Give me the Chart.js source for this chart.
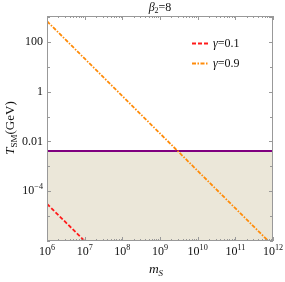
<!DOCTYPE html>
<html>
<head>
<meta charset="utf-8">
<script src="https://cdn.jsdelivr.net/npm/chart.js@4/dist/chart.umd.min.js"></script>
<style>
  html,body{margin:0;padding:0;background:#fff}
  #wrap{width:285px;height:282px}
</style>
</head>
<body>
<div id="wrap"><canvas id="c" width="285" height="282"></canvas></div>
<script>
// data
const redM = [1e6, 1e7];
const redT = [3.1e-5, 1e-6];
const orangeM = [1e6, 7.5e11];
const orangeT = [680, 1e-6];
const boundM = [1e6, 1e12];
const boundT = [0.0041, 0.0041];
const xTicks = [1e6, 1e7, 1e8, 1e9, 1e10, 1e11, 1e12];
const yTicks = [1e-6, 1e-5, 1e-4, 1e-3, 1e-2, 1e-1, 1, 10, 100, 1000];
const yLabels = {'1e-6': ['10', '−6'], '0.0001': ['10', '−4'], '0.01': ['0.01'], '1': ['1'], '100': ['100']};
const xLabels = ['6', '7', '8', '9', '10', '11', '12'];

const pts = (xs, ys) => xs.map((x, i) => ({x, y: ys[i]}));
const SERIF = '"Liberation Serif","DejaVu Serif",serif';
const INK = '#111';

// label: base text with optional raised exponent
function powText(ctx, parts, x, y, align, size) {
  ctx.font = size + 'px ' + SERIF;
  const wb = ctx.measureText(parts[0]).width;
  let we = 0;
  if (parts[1]) { ctx.font = (size * 0.68) + 'px ' + SERIF; we = ctx.measureText(parts[1]).width; }
  const w = wb + we;
  let x0 = align === 'right' ? x - w : align === 'center' ? x - w / 2 : x;
  ctx.textAlign = 'left'; ctx.textBaseline = 'middle';
  ctx.font = size + 'px ' + SERIF;
  ctx.fillText(parts[0], x0, y);
  if (parts[1]) { ctx.font = (size * 0.68) + 'px ' + SERIF; ctx.fillText(parts[1], x0 + wb, y - size * 0.36); }
}

const framePlugin = {
  id: 'frame',
  beforeDraw(chart) {
    const ctx = chart.ctx;
    ctx.save(); ctx.fillStyle = '#fff'; ctx.fillRect(0, 0, chart.width, chart.height); ctx.restore();
  },
  afterDraw(chart) {
    const ctx = chart.ctx, a = chart.chartArea, xs = chart.scales.x, ys = chart.scales.y;
    ctx.save();
    // inward ticks
    ctx.strokeStyle = '#999'; ctx.lineWidth = 1;
    ctx.beginPath();
    xTicks.forEach((v, i) => {
      const px = Math.round(xs.getPixelForValue(v)) + 0.5;
      ctx.moveTo(px, a.bottom); ctx.lineTo(px, a.bottom - 4);
      ctx.moveTo(px, a.top); ctx.lineTo(px, a.top + 4);
      if (i < xTicks.length - 1) for (let k = 2; k < 10; k++) {
        const q = Math.round(xs.getPixelForValue(v * k)) + 0.5;
        ctx.moveTo(q, a.bottom); ctx.lineTo(q, a.bottom - 2);
        ctx.moveTo(q, a.top); ctx.lineTo(q, a.top + 2);
      }
    });
    yTicks.forEach(v => {
      const py = Math.round(ys.getPixelForValue(v)) + 0.5;
      const len = yLabels[String(v)] ? 4 : 3;
      ctx.moveTo(a.left, py); ctx.lineTo(a.left + len, py);
      ctx.moveTo(a.right, py); ctx.lineTo(a.right - len, py);
    });
    ctx.stroke();
    // frame
    ctx.strokeStyle = '#999';
    ctx.strokeRect(a.left + 0.5, a.top + 0.5, a.right - a.left - 1, a.bottom - a.top - 1);

    // tick labels
    ctx.fillStyle = INK;
    yTicks.forEach(v => {
      const lab = yLabels[String(v)];
      if (lab) powText(ctx, lab, a.left - 4, ys.getPixelForValue(v), 'right', 12);
    });
    xTicks.forEach((v, i) => {
      powText(ctx, ['10', xLabels[i]], xs.getPixelForValue(v), a.bottom + 11, 'center', 12);
    });

    // title
    ctx.textBaseline = 'alphabetic'; ctx.textAlign = 'left';
    ctx.font = 'italic 12px ' + SERIF;
    const wB = ctx.measureText('β').width;
    ctx.font = '8px ' + SERIF; const w2 = ctx.measureText('2').width;
    ctx.font = '12px ' + SERIF; const wR = ctx.measureText('=8').width;
    let tx = (a.left + a.right) / 2 - (wB + w2 + wR) / 2;
    ctx.font = 'italic 12px ' + SERIF; ctx.fillText('β', tx, 11);
    ctx.font = '8px ' + SERIF; ctx.fillText('2', tx + wB, 13);
    ctx.font = '12px ' + SERIF; ctx.fillText('=8', tx + wB + w2, 11);

    // x title
    ctx.font = 'italic 13.5px ' + SERIF; const wm = ctx.measureText('m').width;
    ctx.font = 'italic 9px ' + SERIF; const ws = ctx.measureText('S').width;
    tx = 156 - (wm + ws) / 2;
    ctx.font = 'italic 13.5px ' + SERIF; ctx.fillText('m', tx, 273);
    ctx.font = 'italic 9px ' + SERIF; ctx.fillText('S', tx + wm, 276);

    // y title
    ctx.save();
    ctx.translate(14, 128); ctx.rotate(-Math.PI / 2);
    ctx.font = 'italic 13px ' + SERIF; const wT = ctx.measureText('T').width;
    ctx.font = '9px ' + SERIF; const wS = ctx.measureText('SM').width;
    ctx.font = '13px ' + SERIF; const wG = ctx.measureText('(GeV)').width;
    tx = -(wT + wS + wG) / 2;
    ctx.font = 'italic 13px ' + SERIF; ctx.fillText('T', tx, 0);
    ctx.font = '9px ' + SERIF; ctx.fillText('SM', tx + wT, 3);
    ctx.font = '13px ' + SERIF; ctx.fillText('(GeV)', tx + wT + wS, 0);
    ctx.restore();

    // legend
    const items = [
      {ds: chart.data.datasets[0], name: '=0.1', y: 43},
      {ds: chart.data.datasets[1], name: '=0.9', y: 63}
    ];
    items.forEach(it => {
      ctx.strokeStyle = it.ds.borderColor; ctx.lineWidth = 1.8;
      ctx.setLineDash(it.ds.borderDash);
      ctx.beginPath(); ctx.moveTo(192, it.y + 0.5); ctx.lineTo(209, it.y + 0.5); ctx.stroke();
      ctx.setLineDash([]);
      ctx.fillStyle = INK; ctx.textBaseline = 'middle';
      ctx.font = 'italic 12px ' + SERIF; const wg = ctx.measureText('γ').width;
      ctx.fillText('γ', 213, it.y + 1);
      ctx.font = '12px ' + SERIF; ctx.fillText(it.name, 213 + wg, it.y + 1);
    });
    ctx.restore();
  }
};

new Chart(document.getElementById('c'), {
  type: 'line',
  data: {
    datasets: [
      {label: 'γ=0.1', data: pts(redM, redT), borderColor: '#ff1a1a', borderWidth: 1.8, borderDash: [4, 2], pointRadius: 0, fill: false},
      {label: 'γ=0.9', data: pts(orangeM, orangeT), borderColor: '#ff8c0a', borderWidth: 1.8, borderDash: [4, 1.5, 1.5, 1.5], pointRadius: 0, fill: false},
      {label: 'bound', data: pts(boundM, boundT), borderColor: '#800080', borderWidth: 2, pointRadius: 0, fill: 'start', backgroundColor: '#ebe7d9'}
    ]
  },
  options: {
    responsive: false,
    animation: false,
    devicePixelRatio: 1,
    layout: {padding: {left: 47, right: 12, top: 16, bottom: 41}},
    plugins: {legend: {display: false}, tooltip: {enabled: false}},
    scales: {
      x: {type: 'logarithmic', min: 1e6, max: 1e12, display: false},
      y: {type: 'logarithmic', min: 1e-6, max: 1100, display: false}
    }
  },
  plugins: [framePlugin]
});
</script>
</body>
</html>
